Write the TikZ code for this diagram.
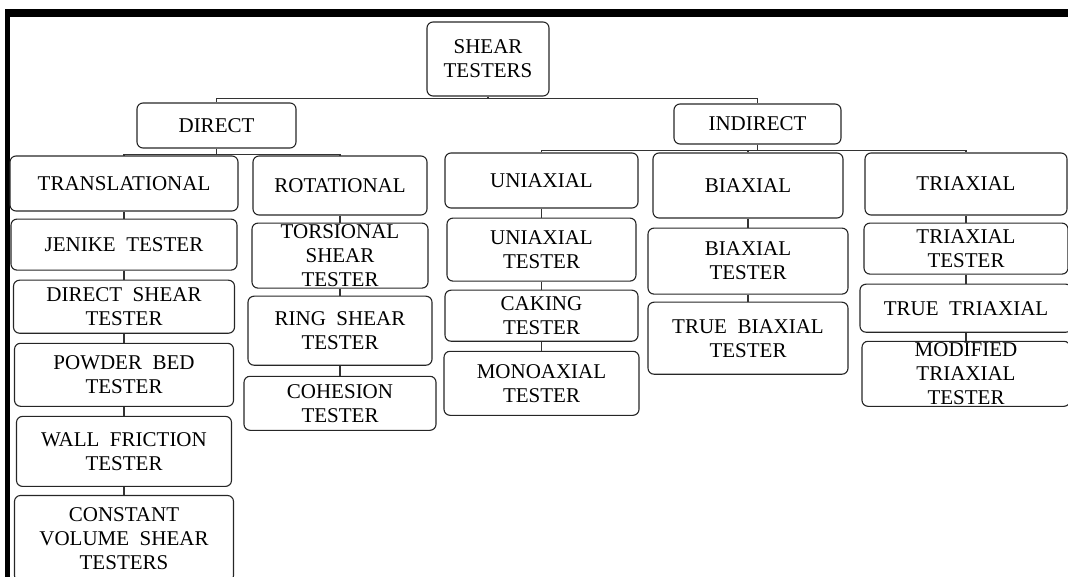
\documentclass[tikz,border=0pt]{standalone}
\usepackage{fontspec}
\setmainfont{Liberation Serif}
\usetikzlibrary{positioning}

\begin{document}
\begin{tikzpicture}[
x=1pt, y=-1pt,
boxnode/.style={rectangle, rounded corners=6pt, draw=black!85, line width=1.1pt,
inner sep=0pt, align=center, font=\fontsize{21}{24}\selectfont},
treeline/.style={draw=black!80, line width=1.4pt}
]
\useasboundingbox (0,0) rectangle (1068,577);

%Frame
\fill (5,9) rectangle (1068,17);
\fill (5,9) rectangle (9.5,577);

%Nodes
\node[boxnode, minimum width=122pt, minimum height=74pt] (shear) at (488,59) {SHEAR\\TESTERS};
\node[boxnode, minimum width=159pt, minimum height=45pt] (direct) at (216.5,125.5) {DIRECT};
\node[boxnode, minimum width=167pt, minimum height=40pt] (indirect) at (757.5,124) {INDIRECT};

\node[boxnode, minimum width=228pt, minimum height=55pt] (transl) at (124,183.5) {TRANSLATIONAL};
\node[boxnode, minimum width=226pt, minimum height=51pt] (jenike) [below=7pt of transl] {JENIKE\ \ TESTER};
\node[boxnode, minimum width=221pt, minimum height=53pt] (dshear) [below=9pt of jenike] {DIRECT\ \ SHEAR\\TESTER};
\node[boxnode, minimum width=219pt, minimum height=63pt] (powder) [below=9pt of dshear] {POWDER\ \ BED\\TESTER};
\node[boxnode, minimum width=215pt, minimum height=70pt] (wall) [below=9pt of powder] {WALL\ \ FRICTION\\TESTER};
\node[boxnode, minimum width=219pt, minimum height=86pt] (const) [below=8pt of wall] {CONSTANT\\VOLUME\ \ SHEAR\\TESTERS};

\node[boxnode, minimum width=174pt, minimum height=59pt] (rot) at (340,185.5) {ROTATIONAL};
\node[boxnode, minimum width=176pt, minimum height=65pt] (torsion) [below=7pt of rot] {TORSIONAL\\SHEAR\\TESTER};
\node[boxnode, minimum width=184pt, minimum height=69pt] (ring) [below=7pt of torsion] {RING\ \ SHEAR\\TESTER};
\node[boxnode, minimum width=192pt, minimum height=54pt] (cohesion) [below=10pt of ring] {COHESION\\TESTER};

\node[boxnode, minimum width=193pt, minimum height=55pt] (uni) at (541.5,180.5) {UNIAXIAL};
\node[boxnode, minimum width=189pt, minimum height=63pt] (unitest) [below=9pt of uni] {UNIAXIAL\\TESTER};
\node[boxnode, minimum width=193pt, minimum height=51pt] (caking) [below=8pt of unitest] {CAKING\\TESTER};
\node[boxnode, minimum width=195pt, minimum height=64pt] (mono) [below=9pt of caking] {MONOAXIAL\\TESTER};

\node[boxnode, minimum width=190pt, minimum height=65pt] (bi) at (748,185.5) {BIAXIAL};
\node[boxnode, minimum width=200pt, minimum height=66pt] (bitest) [below=9pt of bi] {BIAXIAL\\TESTER};
\node[boxnode, minimum width=200pt, minimum height=72pt] (truebi) [below=7pt of bitest] {TRUE\ \ BIAXIAL\\TESTER};

\node[boxnode, minimum width=202pt, minimum height=62pt] (tri) at (966,184) {TRIAXIAL};
\node[boxnode, minimum width=204pt, minimum height=51pt] (tritest) [below=7pt of tri] {TRIAXIAL\\TESTER};
\node[boxnode, minimum width=212pt, minimum height=48pt] (truetri) [below=9pt of tritest] {TRUE\ \ TRIAXIAL};
\node[boxnode, minimum width=208pt, minimum height=65pt] (modified) [below=8pt of truetri] {MODIFIED\\TRIAXIAL\\TESTER};

%Lines
\draw[treeline] (shear.south) -- ++(0,2) -| (direct.north);
\draw[treeline] (shear.south) -- ++(0,2) -| (indirect.north);
\draw[treeline] (direct.south) -- ++(0,6) -| (transl.north);
\draw[treeline] (direct.south) -- ++(0,6) -| (rot.north);
\draw[treeline] (indirect.south) -- ++(0,6) -| (uni.north);
\draw[treeline] (indirect.south) -- ++(0,6) -| (bi.north);
\draw[treeline] (indirect.south) -- ++(0,6) -| (tri.north);

\foreach \a/\b in {transl/jenike, jenike/dshear, dshear/powder, powder/wall, wall/const,
rot/torsion, torsion/ring, ring/cohesion, uni/unitest, unitest/caking, caking/mono,
bi/bitest, bitest/truebi, tri/tritest, tritest/truetri, truetri/modified}
\draw[treeline] (\a.south) -- (\a.south |- \b.north);

\end{tikzpicture}
\end{document}
